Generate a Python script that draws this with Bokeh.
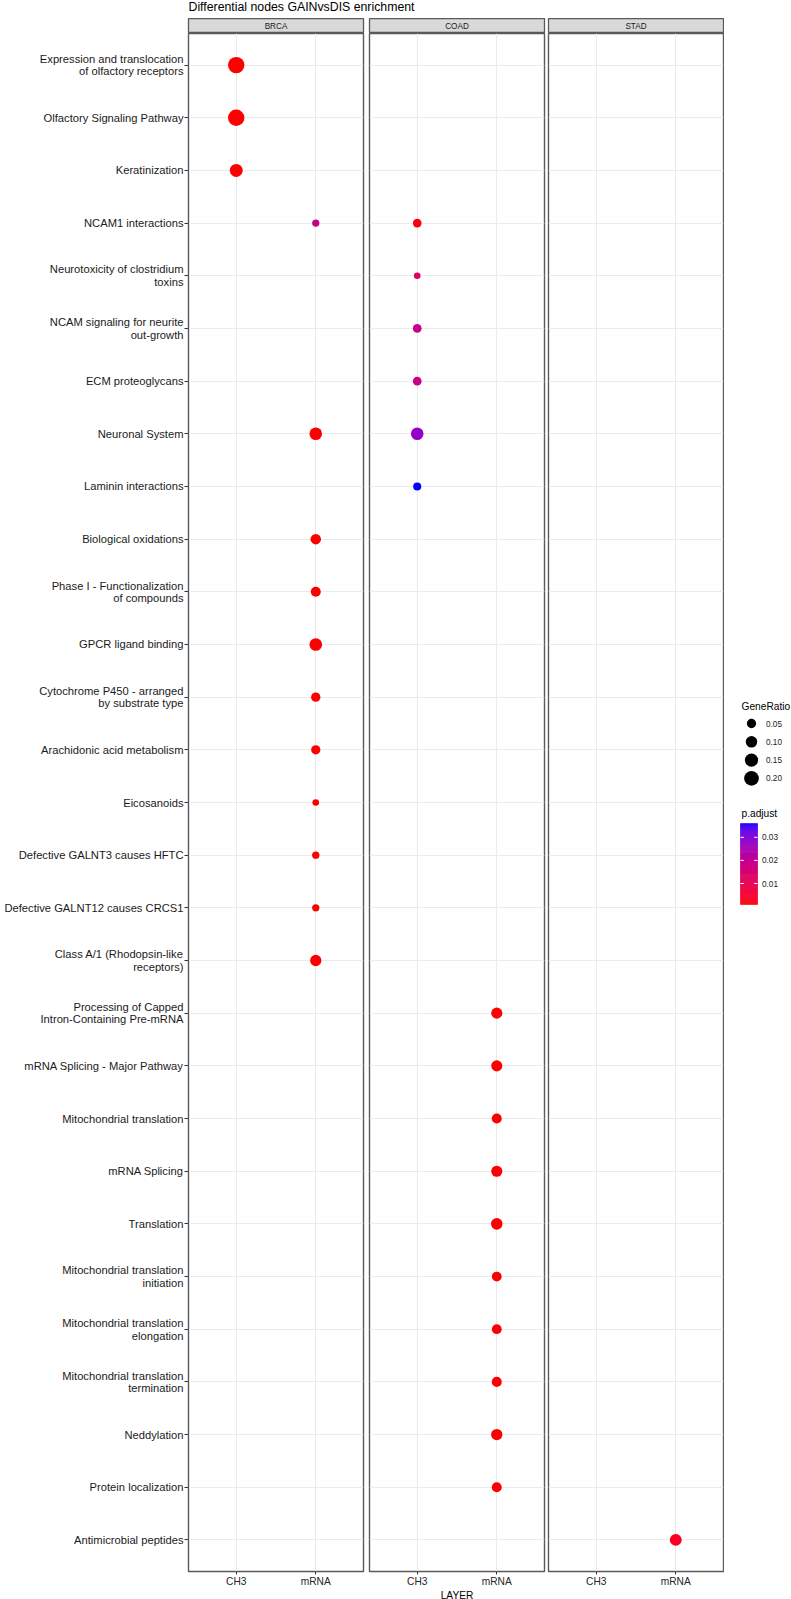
import math
from bokeh.plotting import figure
from bokeh.layouts import row, column
from bokeh.models import FactorRange, Range1d, ColumnDataSource, Label
from bokeh.embed import file_html
from bokeh.resources import INLINE

# ---------------- data ----------------
title_text = "Differential nodes GAINvsDIS enrichment"
tissues = ["BRCA", "COAD", "STAD"]
layers = ["CH3", "mRNA"]

terms = [
    "Expression and translocation\nof olfactory receptors",
    "Olfactory Signaling Pathway",
    "Keratinization",
    "NCAM1 interactions",
    "Neurotoxicity of clostridium\ntoxins",
    "NCAM signaling for neurite\nout-growth",
    "ECM proteoglycans",
    "Neuronal System",
    "Laminin interactions",
    "Biological oxidations",
    "Phase I - Functionalization\nof compounds",
    "GPCR ligand binding",
    "Cytochrome P450 - arranged\nby substrate type",
    "Arachidonic acid metabolism",
    "Eicosanoids",
    "Defective GALNT3 causes HFTC",
    "Defective GALNT12 causes CRCS1",
    "Class A/1 (Rhodopsin-like\nreceptors)",
    "Processing of Capped\nIntron-Containing Pre-mRNA",
    "mRNA Splicing - Major Pathway",
    "Mitochondrial translation",
    "mRNA Splicing",
    "Translation",
    "Mitochondrial translation\ninitiation",
    "Mitochondrial translation\nelongation",
    "Mitochondrial translation\ntermination",
    "Neddylation",
    "Protein localization",
    "Antimicrobial peptides",
]

pt_term_idx = [0, 1, 2, 3, 3, 4, 5, 6, 7, 7, 8, 9, 10, 11, 12, 13, 14, 15, 16, 17,
               18, 19, 20, 21, 22, 23, 24, 25, 26, 27, 28]
pt_tissue = ["BRCA", "BRCA", "BRCA", "BRCA", "COAD", "COAD", "COAD", "COAD", "BRCA", "COAD",
             "COAD", "BRCA", "BRCA", "BRCA", "BRCA", "BRCA", "BRCA", "BRCA", "BRCA", "BRCA",
             "COAD", "COAD", "COAD", "COAD", "COAD", "COAD", "COAD", "COAD", "COAD", "COAD",
             "STAD"]
pt_layer = ["CH3", "CH3", "CH3", "mRNA", "CH3", "CH3", "CH3", "CH3", "mRNA", "CH3",
            "CH3", "mRNA", "mRNA", "mRNA", "mRNA", "mRNA", "mRNA", "mRNA", "mRNA", "mRNA",
            "mRNA", "mRNA", "mRNA", "mRNA", "mRNA", "mRNA", "mRNA", "mRNA", "mRNA", "mRNA",
            "mRNA"]
pt_gene_ratio = [0.27, 0.27, 0.14, 0.02, 0.04, 0.013, 0.04, 0.04, 0.13, 0.13,
                 0.03, 0.075, 0.064, 0.13, 0.05, 0.05, 0.013, 0.02, 0.02, 0.094,
                 0.09, 0.09, 0.065, 0.09, 0.10, 0.06, 0.06, 0.065, 0.094, 0.065,
                 0.11]
pt_p_adjust = [0.0009, 0.0009, 0.0009, 0.019, 0.0018, 0.0125, 0.0185, 0.0185, 0.0009, 0.028,
               0.036, 0.0009, 0.0009, 0.0009, 0.0009, 0.0009, 0.0009, 0.0009, 0.0009, 0.0009,
               0.0010, 0.0010, 0.0010, 0.0010, 0.0010, 0.0010, 0.0010, 0.0010, 0.0010, 0.0010,
               0.0037]

size_breaks = [0.05, 0.10, 0.15, 0.20]
color_breaks = [0.01, 0.02, 0.03]

# ---------------- scales ----------------
FONT = "Liberation Sans"


def size_scale(g):
    return 3.9 + 24.15 * math.sqrt(g)


def _lin(c):
    return c / 12.92 if c <= 0.04045 else ((c + 0.055) / 1.055) ** 2.4


def _gam(c):
    c = min(max(c, 0.0), 1.0)
    return 12.92 * c if c <= 0.0031308 else 1.055 * c ** (1 / 2.4) - 0.055


WX, WY, WZ = 0.95047, 1.0, 1.08883


def hex_to_lab(h):
    r, g, b = [_lin(int(h[i:i + 2], 16) / 255) for i in (1, 3, 5)]
    X = 0.4124 * r + 0.3576 * g + 0.1805 * b
    Y = 0.2126 * r + 0.7152 * g + 0.0722 * b
    Z = 0.0193 * r + 0.1192 * g + 0.9505 * b

    def f(t):
        return t ** (1 / 3) if t > 0.008856 else 7.787 * t + 16 / 116
    fx, fy, fz = f(X / WX), f(Y / WY), f(Z / WZ)
    return (116 * fy - 16, 500 * (fx - fy), 200 * (fy - fz))


def lab_to_hex(L, a, b):
    fy = (L + 16) / 116
    fx = fy + a / 500
    fz = fy - b / 200

    def finv(t):
        return t ** 3 if t ** 3 > 0.008856 else (t - 16 / 116) / 7.787
    X, Y, Z = WX * finv(fx), WY * finv(fy), WZ * finv(fz)
    r = 3.2406 * X - 1.5372 * Y - 0.4986 * Z
    g = -0.9689 * X + 1.8758 * Y + 0.0415 * Z
    bb = 0.0557 * X - 0.2040 * Y + 1.0570 * Z
    return "#%02x%02x%02x" % tuple(int(round(_gam(c) * 255)) for c in (r, g, bb))


LOW_LAB = hex_to_lab("#ff0000")
HIGH_LAB = hex_to_lab("#0000ff")
p_min, p_max = min(pt_p_adjust), max(pt_p_adjust)


def color_scale(p):
    t = (p - p_min) / (p_max - p_min)
    t = min(max(t, 0.0), 1.0)
    return lab_to_hex(*[lo + (hi - lo) * t for lo, hi in zip(LOW_LAB, HIGH_LAB)])


# ---------------- layout geometry ----------------
FRAME_W = 175
FRAME_H = 1538
STRIP_H = 15
HEADER_H = 18
BOTTOM = 28
borders = {"BRCA": (188, 3), "COAD": (3, 2), "STAD": (2, 1)}
BORDER_COL = "#5A5A5A"

y_range = FactorRange(factors=list(reversed(terms)), range_padding=0.1,
                      range_padding_units="absolute")

columns = []
for tissue in tissues:
    bl, br = borders[tissue]
    # facet strip
    s = figure(frame_width=FRAME_W, frame_height=STRIP_H, min_border_left=bl, min_border_right=br,
               min_border_top=0, min_border_bottom=0, x_range=Range1d(0, 1), y_range=Range1d(0, 1),
               x_axis_type=None, y_axis_type=None, toolbar_location=None, output_backend="svg")
    s.background_fill_color = "#D9D9D9"
    s.border_fill_color = "white"
    s.outline_line_color = BORDER_COL
    s.outline_line_width = 1.3
    s.add_layout(Label(x=0.5, y=0.5, text=tissue, text_align="center", text_baseline="middle",
                       text_font=FONT, text_font_size="8.2px", text_color="#1A1A1A"))

    p = figure(frame_width=FRAME_W, frame_height=FRAME_H, min_border_left=bl, min_border_right=br,
               min_border_top=0, min_border_bottom=BOTTOM,
               x_range=FactorRange(factors=layers, range_padding=0.1, range_padding_units="absolute"),
               y_range=y_range, toolbar_location=None, output_backend="svg")
    p.background_fill_color = "white"
    p.border_fill_color = "white"
    p.outline_line_color = BORDER_COL
    p.outline_line_width = 1.4
    p.xgrid.grid_line_color = "#EBEBEB"
    p.ygrid.grid_line_color = "#EBEBEB"
    p.xgrid.grid_line_width = 1.1
    p.ygrid.grid_line_width = 1.1

    idx = [i for i, t in enumerate(pt_tissue) if t == tissue]
    src = ColumnDataSource(dict(
        term=[terms[pt_term_idx[i]] for i in idx],
        layer=[pt_layer[i] for i in idx],
        gene_ratio=[pt_gene_ratio[i] for i in idx],
        p_adjust=[pt_p_adjust[i] for i in idx],
        size=[size_scale(pt_gene_ratio[i]) for i in idx],
        color=[color_scale(pt_p_adjust[i]) for i in idx],
    ))
    p.scatter(x="layer", y="term", size="size", fill_color="color", line_color=None, source=src)

    for ax in p.xaxis:
        ax.axis_line_color = None
        ax.major_tick_line_color = "#333333"
        ax.major_tick_out = 3
        ax.major_tick_in = 0
        ax.major_label_standoff = 1
        ax.major_label_text_font = FONT
        ax.major_label_text_font_size = "10.2px"
        ax.major_label_text_color = "#262626"
        if tissue == "COAD":
            ax.axis_label = "LAYER"
            ax.axis_label_text_font = FONT
            ax.axis_label_text_font_size = "10.2px"
            ax.axis_label_text_font_style = "normal"
            ax.axis_label_text_color = "#000000"
            ax.axis_label_standoff = 0
    if tissue == "BRCA":
        for ax in p.yaxis:
            ax.axis_line_color = None
            ax.major_tick_line_color = "#333333"
            ax.major_tick_out = 4
            ax.major_tick_in = 0
            ax.major_label_standoff = 1
            ax.major_label_text_font = FONT
            ax.major_label_text_font_size = "11.2px"
            ax.major_label_text_color = "#1A1A1A"
            ax.major_label_text_line_height = 1.05
    else:
        p.yaxis.visible = False
    columns.append(column(s, p))

# header with title
header = figure(width=724, height=HEADER_H, x_range=Range1d(0, 724), y_range=Range1d(HEADER_H, 0),
                x_axis_type=None, y_axis_type=None, min_border=0, toolbar_location=None,
                output_backend="svg")
header.outline_line_color = None
header.add_layout(Label(x=188, y=6.5, text=title_text, text_baseline="middle", text_align="left",
                        text_font=FONT, text_font_size="12.3px", text_color="#000000"))

# legend column
leg = figure(width=67, height=1599, x_range=Range1d(724, 791), y_range=Range1d(1599, 0),
             x_axis_type=None, y_axis_type=None, min_border=0, toolbar_location=None,
             output_backend="svg")
leg.outline_line_color = None
leg.add_layout(Label(x=741, y=706, text="GeneRatio", text_baseline="middle", text_font=FONT,
                     text_font_size="10.2px", text_color="#000000"))
key_y = [723 + 18.3 * i for i in range(len(size_breaks))]
leg.scatter(x=[751] * len(size_breaks), y=key_y, size=[size_scale(v) for v in size_breaks],
            fill_color="black", line_color=None)
for v, yk in zip(size_breaks, key_y):
    leg.add_layout(Label(x=765.5, y=yk, text="%.2f" % v, text_baseline="middle", text_font=FONT,
                         text_font_size="8.2px", text_color="#1A1A1A"))

leg.add_layout(Label(x=741, y=813, text="p.adjust", text_baseline="middle", text_font=FONT,
                     text_font_size="10.2px", text_color="#000000"))
BAR_TOP, BAR_BOT, BAR_L, BAR_R = 823, 904, 740, 757
nseg = 80


def bar_y(v):
    return BAR_BOT - (v - p_min) / (p_max - p_min) * (BAR_BOT - BAR_TOP)


vals = [p_min + (p_max - p_min) * k / nseg for k in range(nseg + 1)]
seg_cols = [color_scale((a + b) / 2) for a, b in zip(vals[:-1], vals[1:])]
leg.quad(left=BAR_L, right=BAR_R, bottom=[bar_y(v) for v in vals[:-1]],
         top=[bar_y(v) for v in vals[1:]], fill_color=seg_cols, line_color=seg_cols, line_width=0.6)
for v in color_breaks:
    yb = bar_y(v)
    leg.segment(x0=[BAR_L, BAR_R - 3.4], x1=[BAR_L + 3.4, BAR_R], y0=[yb, yb], y1=[yb, yb],
                line_color="white", line_width=1)
    leg.add_layout(Label(x=761.5, y=yb, text="%.2f" % v, text_baseline="middle", text_font=FONT,
                         text_font_size="8.2px", text_color="#1A1A1A"))

layout = row(column(header, row(*columns)), leg)

open("out.html", "w").write(file_html(layout, INLINE))
